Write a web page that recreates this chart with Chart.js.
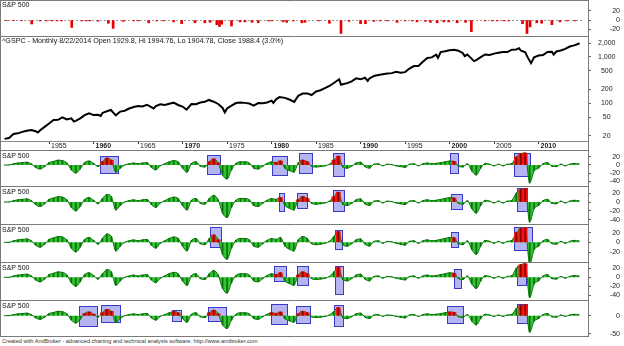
<!DOCTYPE html>
<html>
<head>
<meta charset="utf-8">
<title>S&amp;P 500</title>
<script src="https://cdn.jsdelivr.net/npm/chart.js"></script>
<style>
  body { margin: 0; background: #fff; }
  #wrap { position: relative; width: 624px; height: 346px; overflow: hidden; font-family: "Liberation Sans", Arial, sans-serif; }
  #wrap canvas { position: absolute; left: 0; }
  .lbl { position: absolute; left: 2px; font-size: 7px; line-height: 8px; color: #111; white-space: nowrap; z-index: 2; }
  .foot { position: absolute; left: 2px; top: 338px; font-size: 5.6px; line-height: 7px; color: #333; white-space: nowrap; }
</style>
</head>
<body>
<div id="wrap">
  <canvas id="cTop" width="624" height="36" style="top:0"></canvas>
  <canvas id="cPrice" width="624" height="114" style="top:36px"></canvas>
  <canvas id="cOsc1" width="624" height="36" style="top:150px"></canvas>
  <canvas id="cOsc2" width="624" height="38" style="top:186px"></canvas>
  <canvas id="cOsc3" width="624" height="38" style="top:224px"></canvas>
  <canvas id="cOsc4" width="624" height="38" style="top:262px"></canvas>
  <canvas id="cOsc5" width="624" height="37" style="top:300px"></canvas>
  <div class="lbl" style="top:1px">S&amp;P 500</div>
  <div class="lbl" style="top:37px;font-size:7.2px">^GSPC - Monthly 8/22/2014 Open 1929.8, Hi 1994.76, Lo 1904.78, Close 1988.4 (3.0%)</div>
  <div class="lbl" style="top:152px">S&amp;P 500</div>
  <div class="lbl" style="top:188px">S&amp;P 500</div>
  <div class="lbl" style="top:226px">S&amp;P 500</div>
  <div class="lbl" style="top:264px">S&amp;P 500</div>
  <div class="lbl" style="top:302px">S&amp;P 500</div>
  <div class="foot">Created with AmiBroker - advanced charting and technical analysis software. http://www.amibroker.com</div>
</div>
<script>
// monthly price (log pane)
const priceDates = [
  1950.0, 1950.5, 1951.0, 1951.5, 1952.0, 1952.5, 1953.0, 1953.5, 1953.75, 1954.0, 1954.5, 1955.0, 1955.5, 1956.0, 1956.5, 1957.0, 1957.5, 1957.8, 1958.0, 1958.5, 1959.0, 1959.5,
  1960.0, 1960.5, 1960.8, 1961.0, 1961.5, 1961.95, 1962.5, 1963.0, 1963.5, 1964.0, 1964.5, 1965.0, 1965.5, 1966.0, 1966.75, 1967.0, 1967.5, 1968.0, 1968.5, 1969.0, 1969.5,
  1970.0, 1970.45, 1971.0, 1971.5, 1972.0, 1972.5, 1972.95, 1973.5, 1974.0, 1974.5, 1974.75, 1975.0, 1975.5, 1976.0, 1976.5, 1977.0, 1977.5, 1978.0, 1978.5, 1979.0, 1979.5,
  1980.0, 1980.2, 1980.5, 1980.9, 1981.5, 1982.0, 1982.55, 1983.0, 1983.5, 1984.0, 1984.5, 1985.0, 1985.5, 1986.0, 1986.5, 1987.0, 1987.6, 1987.8, 1988.0, 1988.5, 1989.0, 1989.5,
  1990.0, 1990.5, 1990.8, 1991.0, 1991.5, 1992.0, 1992.5, 1993.0, 1993.5, 1994.0, 1994.5, 1995.0, 1995.5, 1996.0, 1996.5, 1997.0, 1997.5, 1998.0, 1998.5, 1998.7, 1999.0, 1999.5,
  2000.0, 2000.5, 2001.0, 2001.5, 2001.7, 2002.0, 2002.5, 2002.75, 2003.0, 2003.5, 2004.0, 2004.5, 2005.0, 2005.5, 2006.0, 2006.5, 2007.0, 2007.5, 2007.8, 2008.0, 2008.5, 2008.8, 2009.15, 2009.5,
  2010.0, 2010.5, 2011.0, 2011.5, 2011.7, 2012.0, 2012.5, 2013.0, 2013.5, 2014.0, 2014.5, 2014.6
];
const priceClose = [
  17.0, 17.8, 21.7, 22.4, 24.1, 25.4, 26.4, 24.8, 23.3, 26.1, 30.9, 36.6, 43.5, 43.8, 49.4, 44.7, 47.4, 40.4, 41.7, 47.2, 55.4, 60.5,
  55.6, 56.5, 53.4, 61.8, 67.4, 71.6, 54.8, 66.2, 69.1, 77.0, 83.2, 87.6, 85.3, 92.9, 77.1, 86.6, 94.7, 92.2, 97.7, 103.0, 91.8,
  85.0, 72.7, 95.9, 95.6, 103.9, 107.4, 118.0, 108.2, 96.6, 79.3, 63.5, 77.0, 88.8, 100.9, 103.4, 102.0, 98.9, 89.3, 100.7, 99.9, 103.8,
  114.2, 102.1, 121.7, 135.8, 130.9, 120.4, 107.1, 145.3, 162.6, 163.4, 150.7, 179.6, 190.9, 211.8, 236.1, 274.1, 329.8, 251.8, 257.1, 272.0, 297.5, 346.0,
  329.1, 356.2, 304.0, 343.9, 387.8, 408.8, 424.2, 438.8, 448.1, 481.6, 458.3, 470.4, 562.1, 636.0, 639.9, 786.2, 954.3, 980.3, 1120.7, 957.3, 1279.6, 1328.7,
  1394.5, 1430.8, 1366.0, 1211.2, 1040.9, 1130.2, 911.6, 815.3, 855.7, 990.3, 1131.1, 1101.7, 1181.3, 1234.2, 1280.1, 1276.7, 1438.2, 1455.3, 1549.4, 1378.6, 1267.4, 968.8, 735.1, 987.5,
  1073.9, 1101.6, 1286.1, 1292.3, 1131.4, 1312.4, 1379.3, 1498.1, 1685.7, 1782.6, 1930.7, 1988.4
];
const priceTicks = [2000, 1000, 500, 200, 100, 50, 20];
const yearTicks = [1955, 1960, 1965, 1970, 1975, 1980, 1985, 1990, 1995, 2000, 2005, 2010];

// top strip: monthly drops (%)
const dropDates = [
  1950.2, 1951.0, 1951.9, 1953.05, 1954.0, 1954.7, 1955.3, 1955.9, 1956.4, 1957.55,
  1958.7, 1959.2, 1959.6, 1960.5, 1961.66, 1962.2, 1963.35, 1964.5, 1965.05, 1966.2,
  1967.1, 1967.85, 1969.0, 1969.9, 1971.4, 1972.5, 1973.1, 1973.85, 1974.15, 1974.4,
  1975.5, 1976.45, 1977.0, 1977.8, 1978.5, 1979.65, 1980.0, 1981.3, 1981.7, 1982.45,
  1983.4, 1983.75, 1985.3, 1986.5, 1987.8, 1988.7, 1990.0, 1990.55, 1991.5, 1992.2,
  1993.0, 1994.1, 1995.0, 1995.8, 1996.35, 1997.3, 1997.85, 1998.6, 1999.35, 1999.9,
  2000.85, 2001.8, 2002.45, 2004.0, 2004.8, 2005.35, 2006.1, 2006.65, 2008.2, 2008.7,
  2009.05, 2009.8, 2010.35, 2011.5, 2012.4, 2013.2, 2014.1
];
const dropValues = [
  -1.5, -1.5, -1.5, -8.6, -2, -2, -2, -2, -2, -16,
  -2, -2, -2, -2.5, -7, -18, -3, -2, -2, -6,
  -2, -2, -4, -8, -6, -6, -5, -10, -14, -9,
  -13, -4, -4, -5, -6, -2, -2, -4, -5, -2,
  -6, -5, -2, -7, -29, -3, -8, -8, -3, -2,
  -2, -5, -2, -2, -4, -3, -5, -6, -4, -4,
  -6, -5, -25, -2, -2, -2, -2, -2, -8, -29,
  -15, -6, -7, -10, -4, -2, -2
];

// cycle oscillator, one value every half year from 1950.0
const OSC_START = 1950, OSC_STEP = 0.5;
const oscValues = [
  0, 0,   3, 5,   6, 7,   3, -6,   -10, -4,   6, 9,   12, 11,   5, -12,   -20, -10,   6, 10,
  4, -4,  8, 17,  12, -18,  -8, 0,  3, 5,   3, 5,   6, -6,   -12, -2,   3, 8,   11, 8,
  -8, -18,  4, 8,  -3, -5,  8, 15,  5, -25,  -35, -12,  4, 8,  8, 5,  -8, -10,  -3, 4,
  8, 6,   10, -8,  -14, -18,  5, 12,  8, -3,  -5, -4,  -2, 2,  12, 22,  -5, -8,  -3, 5,
  7, -4,  -8, 2,  3, -2,  2, 1,  -2, -4,  -6, 2,  3, -2,  3, 5,  3, 4,  6, 8,
  10, 9,  -3, -5,  3, -15,  -25, -8,  4, 2,  -2, 2,  -2, 2,  4, 20,  28, 30,  -45, -15,
  -8, 3,  6, -3,  -4, 2,  -2, 2,  4, 3
];

// signal boxes per pane: [from year, to year, top, bottom]
const boxes1 = [[1960.73, 1962.72, 21.7, -20], [1972.72, 1974.21, 25.8, -22.5], [1980.02, 1981.71, 21.7, -24], [1983.09, 1984.52, 29, -19], [1986.88, 1988.15, 31, -27.5], [2000.06, 2000.92, 29, -19], [2007.28, 2009.04, 31, -27.5]];
const boxes2 = [[1980.88, 1981.4, 21, -19.5], [1982.9, 1984.0, 21, -14], [1986.88, 1988.15, 27, -19.5], [2000.13, 2001.37, 18, -15.7], [2007.62, 2008.67, 31, -19.5]];
const boxes3 = [[1973.09, 1974.33, 32, -9], [1987.13, 1987.89, 25, -14], [2000.17, 2000.92, 20.6, -10.3], [2007.28, 2009.3, 32, -16]];
const boxes4 = [[1980.28, 1981.6, 25, -8], [1982.83, 1984.13, 25, -17], [1987.13, 1988.07, 26, -38], [2000.45, 2001.26, 18.4, -24.6], [2007.62, 2008.6, 26, -17]];
const boxes5 = [[1958.37, 1960.43, 26.5, -27], [1960.84, 1963.01, 29, -18], [1968.85, 1969.8, 15.6, -14.5], [1972.9, 1974.85, 24.6, -14.5], [1979.94, 1981.71, 31, -23.6], [1982.75, 1984.33, 27, -21], [1987.06, 1988.07, 29, -27], [1999.75, 2001.55, 26.5, -21], [2007.62, 2008.67, 31, -21]];

const FONT = '"Liberation Sans", Arial, sans-serif';
const X_MIN = 1949.6, X_MAX = 2015.555;
const AXIS_W = 32;

function framePlugin(bottom) {
  return {
    id: 'frame',
    afterDraw(chart) {
      const ctx = chart.ctx, r = chart.chartArea.right, h = chart.height;
      ctx.save();
      ctx.strokeStyle = '#7a7a7a';
      ctx.lineWidth = 1;
      ctx.beginPath();
      ctx.moveTo(0.5, 0); ctx.lineTo(0.5, h);
      ctx.moveTo(r + 0.5, 0); ctx.lineTo(r + 0.5, h);
      ctx.moveTo(0, 0.5); ctx.lineTo(r + 1, 0.5);
      if (bottom) { ctx.moveTo(0, h - 0.5); ctx.lineTo(r + 1, h - 0.5); }
      ctx.stroke();
      ctx.restore();
    }
  };
}

function boxPlugin(list) {
  return {
    id: 'boxes',
    beforeDatasetsDraw(chart) {
      const {x, y} = chart.scales;
      const ctx = chart.ctx;
      ctx.save();
      list.forEach(b => {
        const l = Math.round(x.getPixelForValue(b[0])), r = Math.round(x.getPixelForValue(b[1]));
        const t = Math.round(y.getPixelForValue(b[2])), bt = Math.round(y.getPixelForValue(b[3]));
        ctx.fillStyle = 'rgba(120,120,232,0.55)';
        ctx.fillRect(l, t, r - l, bt - t);
        ctx.strokeStyle = '#3a3ac8';
        ctx.lineWidth = 1;
        ctx.strokeRect(l + 0.5, t + 0.5, r - l, bt - t);
      });
      ctx.restore();
    }
  };
}

const zeroLine = {
  id: 'zeroLine',
  beforeDatasetsDraw(chart) {
    const {x, y} = chart.scales;
    const ctx = chart.ctx, yy = Math.round(y.getPixelForValue(0)) + 0.5;
    ctx.save();
    ctx.strokeStyle = '#999';
    ctx.setLineDash([2, 2]);
    ctx.beginPath();
    ctx.moveTo(x.left + 3, yy); ctx.lineTo(x.right - 6, yy);
    ctx.stroke();
    ctx.restore();
  }
};

function yAxis(min, max, ticks, opts) {
  opts = opts || {};
  return {
    type: opts.type || 'linear',
    position: 'right',
    min: min, max: max,
    afterBuildTicks: s => { s.ticks = ticks.map(v => ({value: v})); },
    afterFit: s => { s.width = AXIS_W; s.paddingTop = 0; s.paddingBottom = 0; },
    grid: {display: true, drawOnChartArea: false, drawTicks: true, tickLength: 3, color: '#666'},
    border: {display: false},
    ticks: {
      autoSkip: false,
      font: {family: FONT, size: 7}, color: '#222',
      padding: opts.padding || 2,
      crossAlign: opts.crossAlign || 'far',
      callback: v => opts.fmt ? opts.fmt(v) : String(v)
    }
  };
}

const hiddenX = {type: 'linear', min: X_MIN, max: X_MAX, display: false, offset: false};

function baseOptions(scales) {
  return {
    responsive: false, animation: false, devicePixelRatio: 1, events: [],
    layout: {padding: {left: 1, right: 4, top: 0, bottom: 0}},
    plugins: {legend: {display: false}, tooltip: {enabled: false}},
    scales: scales
  };
}

// top strip
new Chart(document.getElementById('cTop'), {
  type: 'bar',
  data: {datasets: [{
    data: dropDates.map((d, i) => ({x: d, y: dropValues[i]})),
    backgroundColor: '#e60000', barThickness: 2
  }]},
  options: baseOptions({x: hiddenX, y: yAxis(-34.4, 43, [20, 0, -20])}),
  plugins: [zeroLine, framePlugin(false)]
});

// price pane
new Chart(document.getElementById('cPrice'), {
  type: 'line',
  data: {datasets: [{
    data: priceDates.map((d, i) => ({x: d, y: priceClose[i]})),
    borderColor: '#000', borderWidth: 2, pointRadius: 0, tension: 0
  }]},
  options: baseOptions({
    x: {
      type: 'linear', position: 'bottom', min: X_MIN, max: X_MAX, offset: false,
      afterBuildTicks: s => { s.ticks = yearTicks.map(v => ({value: v})); },
      afterFit: s => { s.height = 9; s.paddingLeft = 0; s.paddingRight = 0; },
      grid: {display: true, drawOnChartArea: false, drawTicks: true, tickLength: 3, color: '#333'},
      border: {display: true, color: '#8a8a8a'},
      ticks: {
        autoSkip: false, maxRotation: 0, align: 'start', labelOffset: 2, padding: -2, color: '#222',
        font: c => ({family: FONT, size: 7, weight: (c.tick && c.tick.value % 10 === 0) ? 'bold' : 'normal'}),
        callback: v => String(v)
      }
    },
    y: yAxis(15.3, 2842, priceTicks, {type: 'logarithmic', crossAlign: 'center', padding: 7, fmt: v => v.toLocaleString('en-US')})
  }),
  plugins: [framePlugin(false)]
});

function inBox(t, list) {
  return list.some(b => t >= b[0] && t <= b[1]);
}

function oscChart(id, yMin, yMax, ticks, boxes, last) {
  const pts = oscValues.map((v, i) => ({x: OSC_START + i * OSC_STEP, y: v}));
  const isRed = c => c.raw && c.raw.y > 0 && inBox(c.raw.x, boxes);
  new Chart(document.getElementById(id), {
    type: 'bar',
    data: {datasets: [
      {type: 'line', data: pts, fill: 'origin', backgroundColor: '#33c433', borderColor: '#0a760a',
       borderWidth: 1, pointRadius: 0, cubicInterpolationMode: 'monotone', order: 3},
      {type: 'bar', data: pts, grouped: false, barThickness: 4, maxBarThickness: 4,
       backgroundColor: c => isRed(c) ? '#f41414' : 'rgba(0,0,0,0)', order: 2},
      {type: 'bar', data: pts, grouped: false, barThickness: 1, maxBarThickness: 1,
       backgroundColor: c => isRed(c) ? '#8c0000' : '#0a6e0a', order: 1}
    ]},
    options: baseOptions({x: hiddenX, y: yAxis(yMin, yMax, ticks)}),
    plugins: [boxPlugin(boxes), framePlugin(last)]
  });
}

oscChart('cOsc1', -52.5, 37.5, [20, 0, -20, -40], boxes1, false);
oscChart('cOsc2', -49.4, 36, [20, 0, -20, -40], boxes2, false);
oscChart('cOsc3', -40.6, 37.7, [20, 0, -20], boxes3, false);
oscChart('cOsc4', -50.4, 34, [20, 0, -20, -40], boxes4, false);
oscChart('cOsc5', -58.2, 42.9, [0, -50], boxes5, true);
</script>
</body>
</html>
